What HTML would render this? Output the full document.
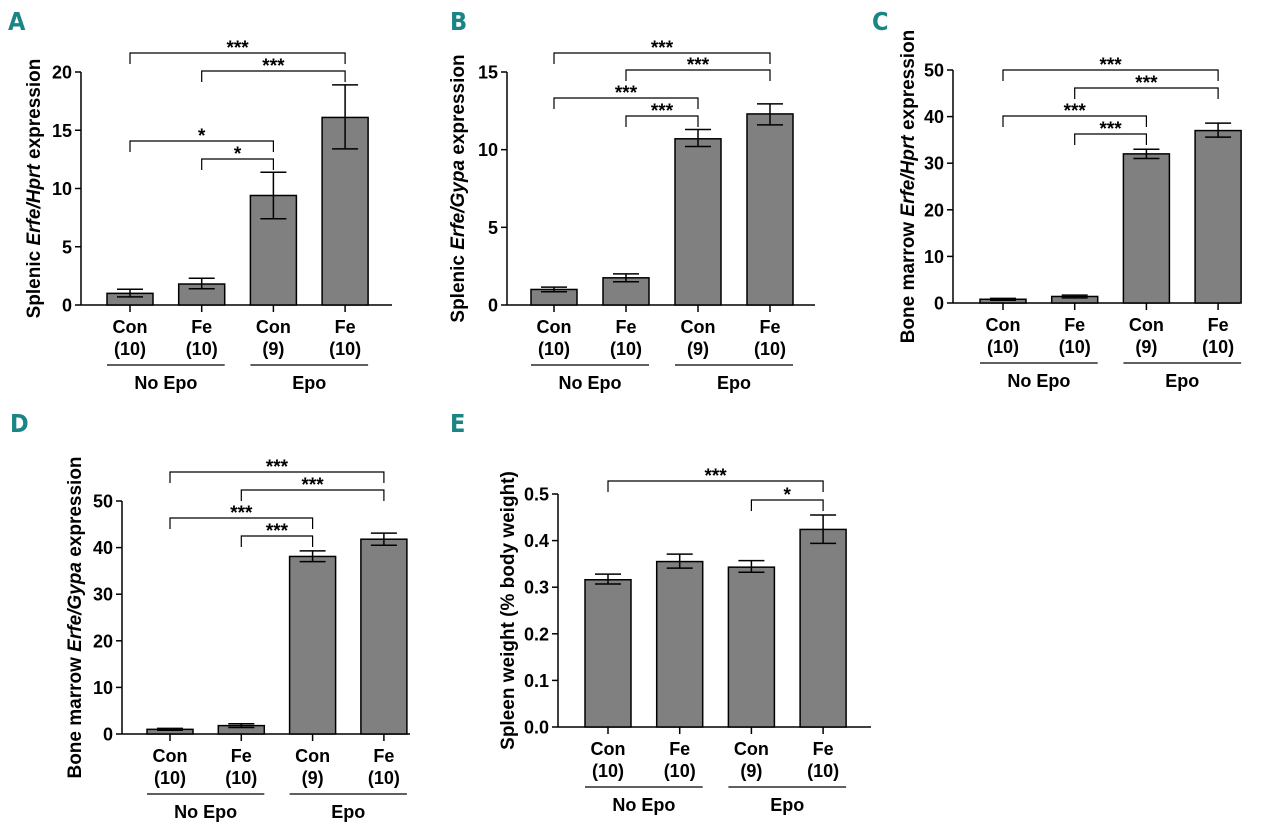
<!DOCTYPE html>
<html><head><meta charset="utf-8"><style>
html,body{margin:0;padding:0;background:#fff;}
svg{display:block;font-family:"Liberation Sans",Arial,sans-serif;}
</style></head><body>
<svg id="fig" width="1280" height="826" viewBox="0 0 1280 826" xmlns="http://www.w3.org/2000/svg"></svg>
<script>
// ---- data ----
const categories = ["Con","Fe","Con","Fe"];
const nLabels = ["(10)","(10)","(9)","(10)"];
const groupLabels = ["No Epo","Epo"];
const valuesA = [1.0, 1.8, 9.4, 16.1];
const errLowA = [0.7, 1.4, 7.4, 13.4];
const errHighA = [1.35, 2.3, 11.4, 18.9];
const ticksA = [0,5,10,15,20];
const valuesB = [1.0, 1.75, 10.7, 12.3];
const errLowB = [0.85, 1.5, 10.2, 11.6];
const errHighB = [1.15, 2.0, 11.3, 12.95];
const ticksB = [0,5,10,15];
const valuesC = [0.8, 1.4, 32.0, 37.0];
const errLowC = [0.6, 1.1, 31.0, 35.6];
const errHighC = [1.0, 1.7, 33.0, 38.6];
const ticksC = [0,10,20,30,40,50];
const valuesD = [1.0, 1.8, 38.1, 41.8];
const errLowD = [0.8, 1.4, 37.0, 40.5];
const errHighD = [1.2, 2.2, 39.3, 43.1];
const ticksD = [0,10,20,30,40,50];
const valuesE = [0.316, 0.355, 0.343, 0.424];
const errLowE = [0.307, 0.341, 0.332, 0.394];
const errHighE = [0.328, 0.371, 0.357, 0.455];
const ticksE = [0.0,0.1,0.2,0.3,0.4,0.5];
const tickLabelsE = ["0.0","0.1","0.2","0.3","0.4","0.5"];

const NS="http://www.w3.org/2000/svg";
const svg=document.getElementById('fig');
function mk(tag,attrs,parent,text){const e=document.createElementNS(NS,tag);for(const k in attrs)e.setAttribute(k,attrs[k]);if(text!==undefined)e.textContent=text;(parent||svg).appendChild(e);return e;}

function panel(p){
  const g=mk('g',{});
  
  
  const max=p.ticks[p.ticks.length-1];
  const y=v=>p.y0-(v/max)*(p.y0-p.yTop);
  const x=i=>p.xc0+i*p.step;
  const lt=mk('text',{x:p.lx,y:p.ly,'font-size':25,'font-weight':'bold',fill:'#1b8585','font-family':'"DejaVu Sans Condensed","Liberation Sans Narrow",sans-serif'},g,p.id);
   
  const ax=mk('line',{x1:p.ax,y1:p.yTop,x2:p.ax,y2:p.y0,stroke:'#000','stroke-width':1.5},g);
   
  p.ticks.forEach((t,i)=>{
    mk('line',{x1:p.ax-6,y1:y(t),x2:p.ax,y2:y(t),stroke:'#000','stroke-width':1.5},g);
    const tl=mk('text',{x:p.ax-9,y:y(t)+6.5,'font-size':18,'font-weight':'bold','text-anchor':'end'},g,p.tickLabels?p.tickLabels[i]:String(t));
     
  });
  const xa=mk('line',{x1:p.ax,y1:p.y0,x2:p.xEnd,y2:p.y0,stroke:'#000','stroke-width':1.5},g);
   
  p.values.forEach((v,i)=>{
    const b=mk('rect',{x:x(i)-23,y:y(v),width:46,height:p.y0-y(v),fill:'#808080',stroke:'#000','stroke-width':1.5},g);
     
    const e=mk('path',{d:`M${x(i)-13},${y(p.hi[i])}H${x(i)+13}M${x(i)},${y(p.hi[i])}V${y(p.lo[i])}M${x(i)-13},${y(p.lo[i])}H${x(i)+13}`,stroke:'#000','stroke-width':1.5,fill:'none'},g);
     
    mk('line',{x1:x(i),y1:p.y0,x2:x(i),y2:p.y0+7,stroke:'#000','stroke-width':1.5},g);
    const c=mk('text',{x:x(i),y:p.y0+28,'font-size':18,'font-weight':'bold','text-anchor':'middle'},g,categories[i]);
     
    const n=mk('text',{x:x(i),y:p.y0+50,'font-size':18,'font-weight':'bold','text-anchor':'middle'},g,nLabels[i]);
     
  });
  [[0,1],[2,3]].forEach((pr,k)=>{
    const l=mk('line',{x1:x(pr[0])-23,y1:p.y0+60,x2:x(pr[1])+23,y2:p.y0+60,stroke:'#000','stroke-width':1.3},g);
     
    const t=mk('text',{x:(x(pr[0])+x(pr[1]))/2,y:p.y0+84,'font-size':18,'font-weight':'bold','text-anchor':'middle'},g,groupLabels[k]);
     
  });
  p.brackets.forEach(br=>{
    const [a,b,yy,s]=br;
    const bl=mk('path',{d:`M${x(a)},${yy+11}V${yy}H${x(b)}V${yy+11}`,stroke:'#000','stroke-width':1.2,fill:'none'},g);
     
    const st=mk('text',{x:(x(a)+x(b))/2,y:yy+1,'font-size':19,'font-weight':'bold','text-anchor':'middle'},g,s);
     
  });
  const yt=mk('text',{transform:`translate(${p.tx},${(p.yTop+p.y0)/2}) rotate(-90)`,'font-size':19,'font-weight':'bold','text-anchor':'middle'},g);
   
  p.title.forEach(([s,it])=>{mk('tspan',it?{'font-style':'italic'}:{},yt,s);});
}

panel({id:'A',lx:8,ly:30,ax:81,y0:305,yTop:72,xEnd:392,xc0:130,step:71.7,ticks:ticksA,values:valuesA,lo:errLowA,hi:errHighA,tx:40,
  brackets:[[0,3,53,'***'],[1,3,71,'***'],[0,2,141,'*'],[1,2,159,'*']],
  title:[['Splenic ',0],['Erfe/Hprt',1],[' expression',0]]});
panel({id:'B',lx:450,ly:30,ax:507,y0:305,yTop:72,xEnd:815,xc0:554,step:72,ticks:ticksB,values:valuesB,lo:errLowB,hi:errHighB,tx:464,
  brackets:[[0,3,53,'***'],[1,3,70,'***'],[0,2,98,'***'],[1,2,116,'***']],
  title:[['Splenic ',0],['Erfe/Gypa',1],[' expression',0]]});
panel({id:'C',lx:872,ly:30,ax:953,y0:303,yTop:70,xEnd:1240,xc0:1003,step:71.7,ticks:ticksC,values:valuesC,lo:errLowC,hi:errHighC,tx:914,
  brackets:[[0,3,70,'***'],[1,3,88,'***'],[0,2,116,'***'],[1,2,134,'***']],
  title:[['Bone marrow ',0],['Erfe/Hprt',1],[' expression',0]]});
panel({id:'D',lx:10,ly:432,ax:122,y0:734,yTop:501,xEnd:410,xc0:170,step:71.3,ticks:ticksD,values:valuesD,lo:errLowD,hi:errHighD,tx:81,
  brackets:[[0,3,472,'***'],[1,3,490,'***'],[0,2,518,'***'],[1,2,536,'***']],
  title:[['Bone marrow ',0],['Erfe/Gypa',1],[' expression',0]]});
panel({id:'E',lx:450,ly:432,ax:558,y0:727,yTop:494,xEnd:871,xc0:608,step:71.7,ticks:ticksE,tickLabels:tickLabelsE,values:valuesE,lo:errLowE,hi:errHighE,tx:514,
  brackets:[[0,3,481,'***'],[2,3,500,'*']],
  title:[['Spleen weight (% body weight)',0]]});
</script>
</body></html>
